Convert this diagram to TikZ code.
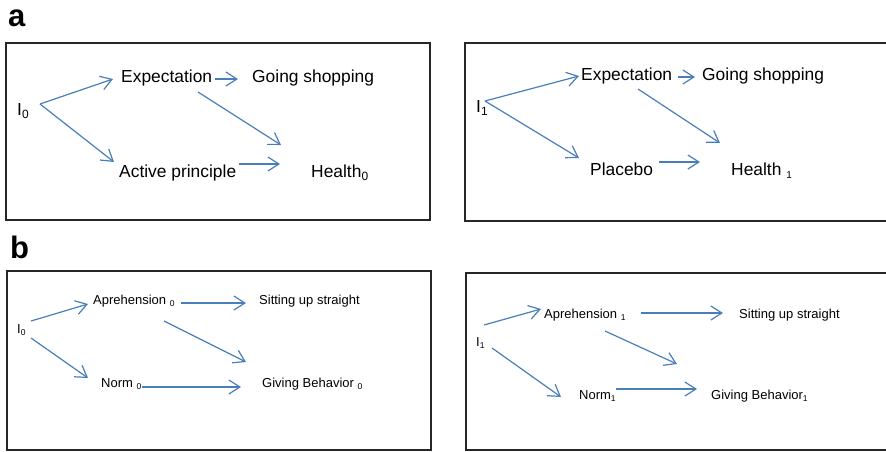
\documentclass[tikz,border=0pt]{standalone}
\usepackage{fontspec}
\setmainfont{Liberation Sans}
\usetikzlibrary{arrows.meta}
\definecolor{linkblue}{HTML}{4A7EBB}
% lowered index: #1 = size, #2 = drop below baseline, #3 = index text
\newcommand{\dropidx}[3]{\raisebox{-#2}{\fontsize{#1}{#1}\selectfont #3}}
\newcommand{\idxa}[1]{\dropidx{12pt}{3.5pt}{#1}}
\newcommand{\idxb}[1]{\dropidx{8.5pt}{2.5pt}{#1}}
\begin{document}
\begin{tikzpicture}[x=1pt,y=-1pt,
  arr/.style={draw=linkblue, line width=1.2pt, -{Straight Barb[length=11pt,width=14pt]}},
  panel/.style={draw=black!85, line width=1.2pt},
  txta/.style={font=\fontsize{17.4}{20}\selectfont, inner sep=0pt, anchor=base west},
  txtb/.style={font=\fontsize{13}{15}\selectfont, inner sep=0pt, anchor=base west},
  tag/.style={font=\fontsize{31}{34}\selectfont\bfseries, inner sep=0pt, anchor=base west}]
\useasboundingbox (0,0) rectangle (886,451);

% panel labels
\node[tag] (taga) at (8,26) {a};
\node[tag] (tagb) at (10,258) {b};

% frames
\draw[panel] (6,43) rectangle (430,220);
\draw[panel] (465,43) rectangle (890,221);
\draw[panel] (7,271) rectangle (431,450);
\draw[panel] (466,273) rectangle (890,450);

% ---- a, left: active treatment
\node[txta] (i0a)  at (17,115)  {I\idxa{0}};
\node[txta] (expa) at (121,82)  {Expectation};
\node[txta] (goa)  at (252,82)  {Going shopping};
\node[txta] (acta) at (119,177) {Active principle};
\node[txta] (hlta) at (311,177) {Health\idxa{0}};
\draw[arr] ([shift={(23,-11)}]i0a.base west) -- ([shift={(-8,-3)}]expa.base west);
\draw[arr] ([shift={(23,-11)}]i0a.base west) -- ([shift={(-5,-15)}]acta.base west);
\draw[arr] ([shift={(94,-3)}]expa.base west) -- ([shift={(-14,-3)}]goa.base west);
\draw[arr] ([shift={(77,10)}]expa.base west) -- ([shift={(-30,-32)}]hlta.base west);
\draw[arr] ([shift={(120,-13)}]acta.base west) -- ([shift={(-31,-13)}]hlta.base west);

% ---- a, right: placebo
\node[txta] (i1a)  at (476,112) {I\idxa{1}};
\node[txta] (expb) at (581,80)  {Expectation};
\node[txta] (gob)  at (702,80)  {Going shopping};
\node[txta] (plc)  at (590,175) {Placebo};
\node[txta] (hltb) at (731,175) {Health \dropidx{10pt}{3.5pt}{1}};
\draw[arr] ([shift={(9,-11)}]i1a.base west) -- ([shift={(-2,-4)}]expb.base west);
\draw[arr] ([shift={(9,-11)}]i1a.base west) -- ([shift={(-11,-17)}]plc.base west);
\draw[arr] ([shift={(97,-3)}]expb.base west) -- ([shift={(-7,-3)}]gob.base west);
\draw[arr] ([shift={(57,9)}]expb.base west) -- ([shift={(-11,-32)}]hltb.base west);
\draw[arr] ([shift={(69,-13)}]plc.base west) -- ([shift={(-31,-13)}]hltb.base west);

% ---- b, left
\node[txtb] (i0b)  at (17,333)  {I\idxb{0}};
\node[txtb] (aprb) at (93,304)  {Aprehension \idxb{0}};
\node[txtb] (sitb) at (259,304) {Sitting up straight};
\node[txtb] (nrmb) at (101,387) {Norm \idxb{0}};
\node[txtb] (givb) at (262,387) {Giving Behavior \idxb{0}};
\draw[arr] ([shift={(14,-12)}]i0b.base west) -- ([shift={(-5,0)}]aprb.base west);
\draw[arr] ([shift={(14,5)}]i0b.base west) -- ([shift={(-13,-9)}]nrmb.base west);
\draw[arr] ([shift={(88,-1)}]aprb.base west) -- ([shift={(-13,-1)}]sitb.base west);
\draw[arr] ([shift={(71,17)}]aprb.base west) -- ([shift={(-16,-25)}]givb.base west);
\draw[arr] ([shift={(41,0)}]nrmb.base west) -- ([shift={(-21,0)}]givb.base west);

% ---- b, right
\node[txtb] (i1b)  at (476,346) {I\idxb{1}};
\node[txtb] (aprc) at (544,318) {Aprehension \idxb{1}};
\node[txtb] (sitc) at (739,318) {Sitting up straight};
\node[txtb] (nrmc) at (579,399) {Norm\idxb{1}};
\node[txtb] (givc) at (711,399) {Giving Behavior\idxb{1}};
\draw[arr] ([shift={(8,-21)}]i1b.base west) -- ([shift={(-3,-9)}]aprc.base west);
\draw[arr] ([shift={(16,2)}]i1b.base west) -- ([shift={(-18,-2)}]nrmc.base west);
\draw[arr] ([shift={(97,-5)}]aprc.base west) -- ([shift={(-16,-5)}]sitc.base west);
\draw[arr] ([shift={(61,13)}]aprc.base west) -- ([shift={(-34,-35)}]givc.base west);
\draw[arr] ([shift={(37,-10)}]nrmc.base west) -- ([shift={(-14,-10)}]givc.base west);
\end{tikzpicture}
\end{document}
